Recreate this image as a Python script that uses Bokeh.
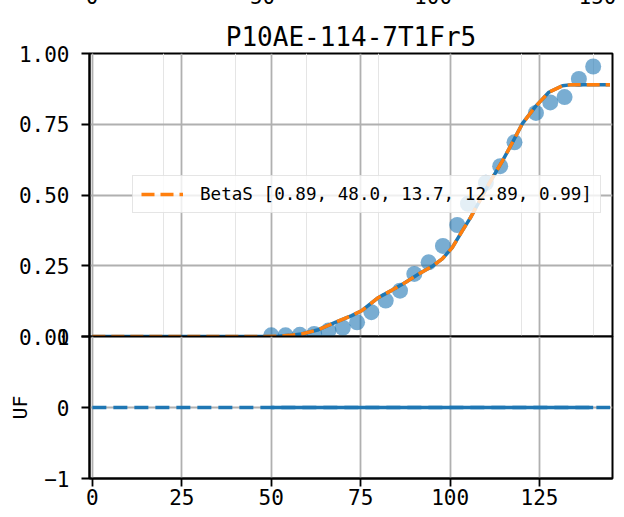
from bokeh.plotting import figure
from bokeh.models import (Range1d, LinearAxis, FixedTicker, NumeralTickFormatter,
                          Legend, LegendItem, Title, Grid)
from bokeh.layouts import column
from bokeh.embed import file_html
from bokeh.resources import INLINE

FONT = "DejaVu Sans Mono"
BLUE = "#1f77b4"
ORANGE = "#ff7f0e"

title_text = "P10AE-114-7T1Fr5"

# measured points
x_pts = [50, 54, 58, 62, 66, 70, 74, 78, 82, 86, 90, 94, 98, 102, 105, 110,
         114, 118, 124, 128, 132, 136, 140]
y_pts = [0.004, 0.004, 0.006, 0.009, 0.021, 0.031, 0.05, 0.086, 0.127, 0.162,
         0.221, 0.262, 0.32, 0.394, 0.469, 0.543, 0.602, 0.686, 0.79, 0.827,
         0.846, 0.91, 0.954]

# fitted curve
fit_x = [0, 48, 52, 55, 58.5, 63.2, 67.9, 72.5, 75.4, 80, 83.8, 87.5, 91.2, 95,
         97.8, 100.6, 103.4, 105.7, 110.8, 114.6, 116.4, 120.2, 123.9, 127.6,
         131.4, 134, 144.7]
fit_y = [0, 0, 0.001, 0.004, 0.009, 0.024, 0.05, 0.074, 0.092, 0.138, 0.164,
         0.191, 0.221, 0.248, 0.274, 0.314, 0.373, 0.42, 0.538, 0.62, 0.661,
         0.752, 0.813, 0.863, 0.886, 0.89, 0.89]

param_labels = ["0.89", "48.0", "13.7", "12.89", "0.99"]
legend_label = "BetaS [" + ", ".join(param_labels) + "]"

# lower panel (UF)
uf_line_x = [0, 144.7]
uf_line_y = [0, 0]
uf_res = [0, 0, 0, 0, 0, 0, 0, 0, 0, 0, 0, 0, 0, 0, 0, 0, 0, 0, 0, 0, 0, 0, 0]

x_ticks = [0, 25, 50, 75, 100, 125]
y_ticks_top = [0, 0.25, 0.5, 0.75, 1.0]
y_ticks_uf = [-1, 0, 1]
strip_ticks = [0, 50, 100, 150]

GRID = "#b0b0b0"

xr = Range1d(-0.8, 145.4)

# ---------------- top panel ----------------
p1 = figure(width=616, height=364, x_range=xr, y_range=Range1d(0, 1),
            output_backend="svg", toolbar_location=None, title_location=None,
            x_axis_location=None,
            min_border_left=89, min_border_right=4, min_border_top=68,
            min_border_bottom=12, margin=(-16, 0, 0, 0))
p1.outline_line_color = "black"
p1.outline_line_width = 2
p1.outline_line_alpha = 1

p1.add_layout(Grid(dimension=0, ticker=FixedTicker(ticks=x_ticks),
                   grid_line_color=GRID, grid_line_width=1.8))
p1.ygrid.ticker = FixedTicker(ticks=y_ticks_top)
p1.ygrid.grid_line_color = GRID
p1.ygrid.grid_line_width = 1.8

ya = p1.yaxis[0]
ya.ticker = FixedTicker(ticks=y_ticks_top)
ya.formatter = NumeralTickFormatter(format="0.00")
ya.minor_tick_line_color = None
ya.major_tick_in = 0
ya.major_tick_out = 8
ya.major_tick_line_width = 1.8
ya.axis_line_width = 2
ya.major_label_standoff = 12
ya.major_label_text_font = FONT
ya.major_label_text_font_size = "21px"
ya.major_label_text_color = "black"

p1.add_layout(Title(text=title_text, align="center", text_font=FONT,
                    text_font_size="26px", text_font_style="normal",
                    text_color="black", standoff=3), "above")
p1.extra_x_ranges = {"strip": Range1d(-0.73, 152.6)}
strip_ax = LinearAxis(x_range_name="strip", ticker=FixedTicker(ticks=strip_ticks),
                      axis_line_color=None, major_tick_line_color=None,
                      minor_tick_line_color=None, major_label_standoff=9,
                      major_label_text_font=FONT, major_label_text_font_size="21px",
                      major_label_text_color="black")
p1.add_layout(strip_ax, "above")

p1.scatter(x_pts, y_pts, size=16, fill_color=BLUE, fill_alpha=0.6, line_color=None)
p1.line(fit_x, fit_y, line_color=BLUE, line_width=3.5)
r_or = p1.line(fit_x, fit_y, line_color=ORANGE, line_width=3.5, line_dash="13 6")

legend = Legend(items=[LegendItem(label=legend_label, renderers=[r_or])],
                location=(43, 123), padding=8, margin=0, spacing=0,
                glyph_width=42, glyph_height=20, label_standoff=17,
                label_text_font=FONT, label_text_font_size="17.6px",
                label_text_color="black",
                background_fill_alpha=0.8, border_line_color="#cccccc",
                border_line_width=1.5)
p1.add_layout(legend, "center")

# ---------------- bottom panel ----------------
p2 = figure(width=616, height=190, x_range=xr, y_range=Range1d(-1, 1),
            output_backend="svg", toolbar_location=None, title_location=None,
            min_border_left=89, min_border_right=4, min_border_top=12,
            min_border_bottom=36, margin=(-24, 0, -10, 0))
p2.border_fill_alpha = 0
p2.outline_line_color = "black"
p2.outline_line_width = 2
p2.outline_line_alpha = 1

p2.xgrid.ticker = FixedTicker(ticks=x_ticks)
p2.xgrid.grid_line_color = GRID
p2.xgrid.grid_line_width = 1.8
p2.ygrid.ticker = FixedTicker(ticks=y_ticks_uf)
p2.ygrid.grid_line_color = GRID
p2.ygrid.grid_line_width = 1.8

xa = p2.xaxis[0]
xa.ticker = FixedTicker(ticks=x_ticks)
xa.minor_tick_line_color = None
xa.major_tick_in = 0
xa.major_tick_out = 8
xa.major_tick_line_width = 1.8
xa.axis_line_width = 2
xa.major_label_standoff = 2
xa.major_label_text_font = FONT
xa.major_label_text_font_size = "21px"
xa.major_label_text_color = "black"

ya2 = p2.yaxis[0]
ya2.ticker = FixedTicker(ticks=y_ticks_uf)
ya2.major_label_overrides = {-1: "\u22121", 0: "0", 1: "1"}
ya2.minor_tick_line_color = None
ya2.major_tick_in = 0
ya2.major_tick_out = 8
ya2.major_tick_line_width = 1.8
ya2.axis_line_width = 2
ya2.major_label_standoff = 12
ya2.major_label_text_font = FONT
ya2.major_label_text_font_size = "21px"
ya2.major_label_text_color = "black"
ya2.axis_label = "UF"
ya2.axis_label_text_font = FONT
ya2.axis_label_text_font_size = "20px"
ya2.axis_label_text_font_style = "normal"
ya2.axis_label_text_color = "black"
ya2.axis_label_standoff = 9

p2.line(uf_line_x, uf_line_y, line_color=BLUE, line_width=3.5, line_dash="14 7")
p2.line(x_pts, uf_res, line_color=BLUE, line_width=3.5)

layout = column(p1, p2, spacing=0)
open("out.html", "w").write(file_html(layout, INLINE))
